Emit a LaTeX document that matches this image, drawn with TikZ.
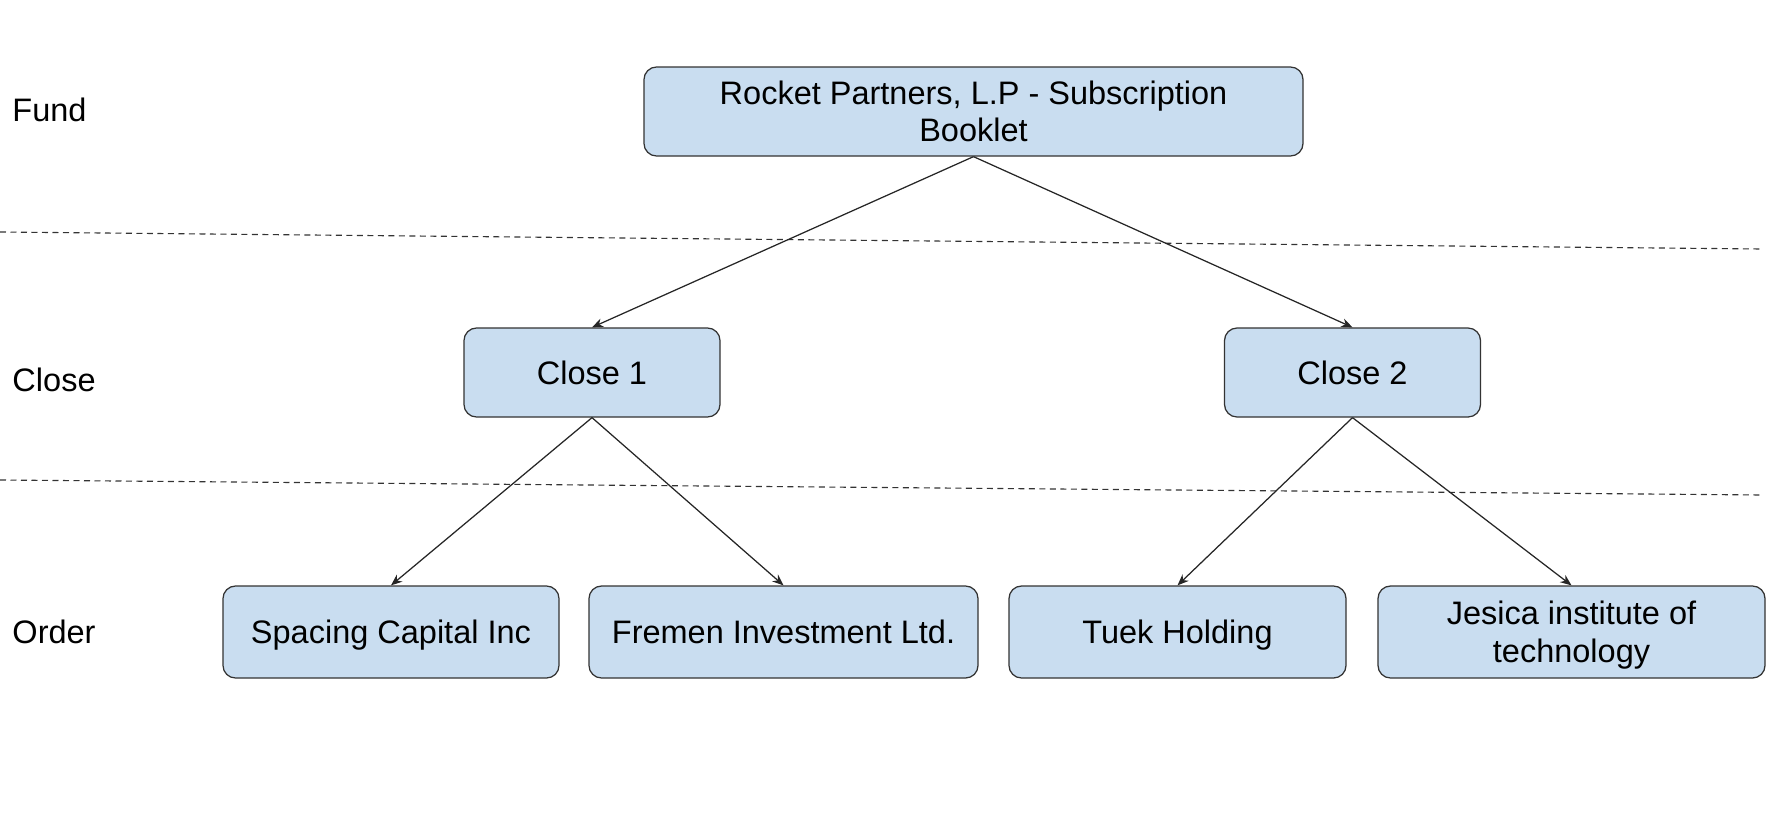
\documentclass[tikz,border=0pt]{standalone}
\usepackage{fontspec}
\setmainfont{Liberation Sans}
\usetikzlibrary{arrows.meta}
\definecolor{boxfill}{HTML}{C9DDF0}
\definecolor{boxline}{HTML}{333333}
\newcommand\mystrut{\rule[-2.5pt]{0pt}{14.3pt}}
\begin{document}
\begin{tikzpicture}[x=0.4pt,y=-0.4pt,
  box/.style={draw=boxline, fill=boxfill, line width=0.5pt, rounded corners=5pt,
    inner sep=0pt, align=center, font=\fontsize{13}{15}\selectfont},
  lbl/.style={anchor=west, inner sep=0pt, font=\fontsize{13}{15}\selectfont},
  conn/.style={draw=black!85, line width=0.5pt, -{Stealth[length=4.5pt,width=3.6pt]}},
  sep/.style={draw=black!80, line width=0.45pt, dash pattern=on 2.4pt off 1.8pt}]
\useasboundingbox (0,0) rectangle (1772,814);
\node[box, minimum width=263.6pt, minimum height=35.6pt] (fund) at (973.5,111.5) {\mystrut Rocket Partners, L.P - Subscription\\\mystrut Booklet};
\node[box, minimum width=102.4pt, minimum height=35.6pt] (c1) at (592,372.5) {\mystrut Close 1};
\node[box, minimum width=102.4pt, minimum height=35.6pt] (c2) at (1352.5,372.5) {\mystrut Close 2};
\node[box, minimum width=134.4pt, minimum height=36.8pt] (o1) at (391,632) {\mystrut Spacing Capital Inc};
\node[box, minimum width=155.6pt, minimum height=36.8pt] (o2) at (783.5,632) {\mystrut Fremen Investment Ltd.};
\node[box, minimum width=134.8pt, minimum height=36.8pt] (o3) at (1177.5,632) {\mystrut Tuek Holding};
\node[box, minimum width=154.8pt, minimum height=36.8pt] (o4) at (1571.5,632) {\mystrut Jesica institute of\\\mystrut technology};
\node[lbl] (lf) at (12,110) {Fund};
\node[lbl] (lc) at (12,380) {Close};
\node[lbl] (lo) at (12,632) {Order};
\coordinate (d1a) at (0,232);
\coordinate (d1b) at (1763,249);
\coordinate (d2a) at (0,480);
\coordinate (d2b) at (1763,495);
\draw[sep] (d1a) -- (d1b);
\draw[sep] (d2a) -- (d2b);
\draw[conn] (fund.south) -- (c1.north);
\draw[conn] (fund.south) -- (c2.north);
\draw[conn] (c1.south) -- (o1.north);
\draw[conn] (c1.south) -- (o2.north);
\draw[conn] (c2.south) -- (o3.north);
\draw[conn] (c2.south) -- (o4.north);
\end{tikzpicture}
\end{document}
